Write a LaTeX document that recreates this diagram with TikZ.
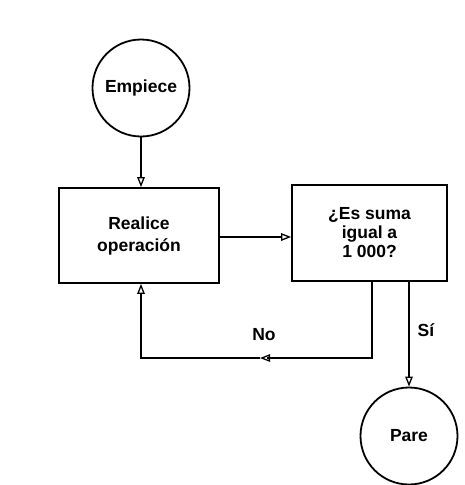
\documentclass[tikz,border=0pt]{standalone}
\usepackage{fontspec}
\setmainfont{Liberation Sans}
\usetikzlibrary{arrows.meta}
\tikzset{
  x=1pt, y=-1pt,
  txt/.style={font=\fontsize{17.5}{22}\selectfont\bfseries},
  term/.style={circle, draw, line width=1.8pt, minimum size=97pt, inner sep=0pt, txt},
  procbox/.style={draw, line width=1.7pt, minimum width=160pt, minimum height=95pt,
    align=center, inner sep=0pt},
  flow/.style={line width=1.4pt, -{Triangle[open, length=10pt, width=7.5pt, line width=1.3pt]}},
  lbl/.style={txt, inner sep=0pt}
}
\begin{document}
\begin{tikzpicture}
\useasboundingbox (0,0) rectangle (464,485);
\node[term] (emp) at (141,88) {Empiece};
\node[procbox, txt] (real) at (139,235.5) {Realice\\operación};
\node[procbox, minimum width=155pt, minimum height=96pt, font=\fontsize{17.5}{19}\selectfont\bfseries] (dec) at (369.5,233) {¿Es suma\\igual a\\1 000?};
\node[term] (pare) at (409,436) {Pare};
\coordinate (ntop) at (372,282);
\coordinate (ncorner) at (372,358);
\draw[flow] (emp.south) -- (emp.south |- real.north);
\draw[flow] (real.east |- 0,237) -- (dec.west |- 0,237);
\draw[line width=1.4pt] (ntop) -- (ncorner) -- (ncorner -| 267,0);
\draw[flow] (ncorner -| 280,0) -- (ncorner -| 260,0);
\draw[flow] (ncorner -| 260,0) -| (emp.south |- real.south);
\draw[flow] (pare.north |- dec.south) -- (pare.north);
\node[lbl] (no) at (264,335) {No};
\node[lbl] (si) at (426,330) {Sí};
\end{tikzpicture}
\end{document}
